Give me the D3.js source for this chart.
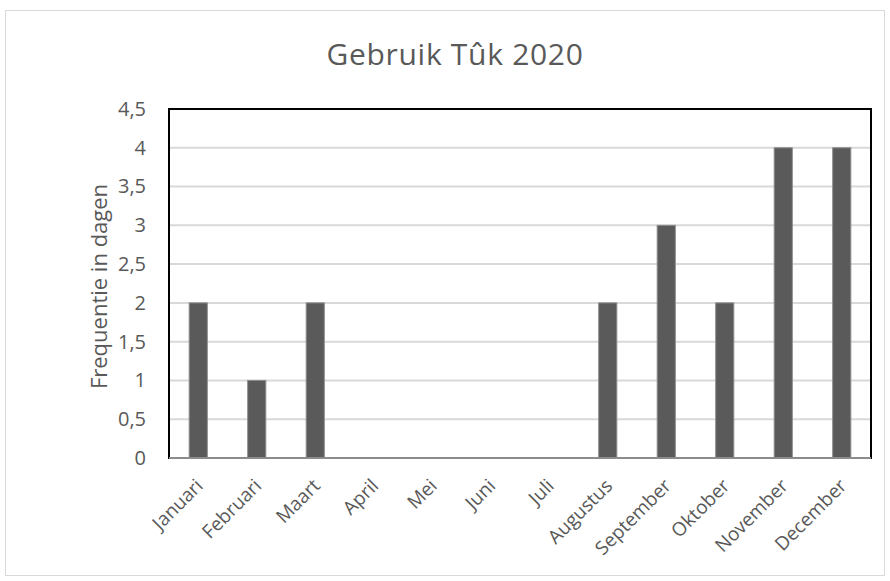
<!DOCTYPE html>
<html>
<head>
<meta charset="utf-8">
<script src="https://cdn.jsdelivr.net/npm/d3@7"></script>
<style>
  body { margin: 0; background: #fff; }
  text { font-family: "Open Sans", sans-serif; fill: #595959; }
</style>
</head>
<body>
<svg id="chart"></svg>
<script>
const months = ['Januari', 'Februari', 'Maart', 'April', 'Mei', 'Juni', 'Juli',
    'Augustus', 'September', 'Oktober', 'November', 'December'];
const days = [2, 1, 2, 0, 0, 0, 0, 2, 3, 2, 4, 4];
const yTicks = [0, 0.5, 1, 1.5, 2, 2.5, 3, 3.5, 4, 4.5];
const chartTitle = 'Gebruik Tûk 2020';
const yTitle = 'Frequentie in dagen';

const width = 890, height = 581;
const plot = { left: 169, top: 109, right: 871, bottom: 458 };

const svg = d3.select('#chart')
    .attr('width', width)
    .attr('height', height);

// outer chart border
svg.append('rect')
    .attr('x', 5.5).attr('y', 10.5)
    .attr('width', 879).attr('height', 565)
    .attr('fill', '#fff')
    .attr('stroke', '#d9d9d9');

const x = d3.scaleBand()
    .domain(months)
    .range([plot.left, plot.right])
    .paddingInner(0.69)
    .paddingOuter(0.345);

const y = d3.scaleLinear()
    .domain([0, 4.5])
    .range([plot.bottom, plot.top]);

// gridlines
svg.append('g')
    .selectAll('line')
    .data(yTicks.filter(d => d > 0 && d < 4.5))
    .join('line')
        .attr('x1', plot.left).attr('x2', plot.right)
        .attr('y1', d => y(d)).attr('y2', d => y(d))
        .attr('stroke', '#d9d9d9').attr('stroke-width', 2);

// bars
svg.append('g')
    .selectAll('rect')
    .data(days)
    .join('rect')
        .attr('x', (d, i) => x(months[i]))
        .attr('y', d => y(d))
        .attr('width', x.bandwidth())
        .attr('height', d => y(0) - y(d))
        .attr('fill', '#5a5a5a')
        .attr('stroke', '#8c8c8c')
        .attr('stroke-width', 1);

// plot frame
svg.append('rect')
    .attr('x', plot.left).attr('y', plot.top)
    .attr('width', plot.right - plot.left)
    .attr('height', plot.bottom - plot.top)
    .attr('fill', 'none')
    .attr('stroke', '#000').attr('stroke-width', 2);

// x axis line (gray)
svg.append('line')
    .attr('x1', plot.left).attr('x2', plot.right)
    .attr('y1', plot.bottom).attr('y2', plot.bottom)
    .attr('stroke', '#8c8c8c').attr('stroke-width', 2);

// y axis
const yAxis = svg.append('g')
    .attr('transform', `translate(${plot.left},0)`)
    .call(d3.axisLeft(y)
        .tickValues(yTicks)
        .tickSize(0)
        .tickPadding(23)
        .tickFormat(d => String(d).replace('.', ',')));
yAxis.select('.domain').remove();
yAxis.selectAll('text')
    .attr('font-size', 20)
    .attr('fill', '#595959')
    .style('font-family', '"Open Sans", sans-serif');

// x axis labels
const xAxis = svg.append('g')
    .attr('transform', `translate(0,${plot.bottom})`)
    .call(d3.axisBottom(x).tickSize(0).tickPadding(0));
xAxis.select('.domain').remove();
xAxis.selectAll('text')
    .attr('font-size', 19)
    .attr('fill', '#595959')
    .style('font-family', '"Open Sans", sans-serif')
    .attr('text-anchor', 'end')
    .attr('dy', 0)
    .attr('y', 0)
    .attr('transform', 'translate(6,29) rotate(-45)');

// titles
svg.append('text')
    .attr('x', 455).attr('y', 65)
    .attr('text-anchor', 'middle')
    .attr('font-size', 30)
    .attr('letter-spacing', 0.7)
    .text(chartTitle);

svg.append('text')
    .attr('transform', `translate(107,${(plot.top + plot.bottom) / 2 + 3}) rotate(-90)`)
    .attr('text-anchor', 'middle')
    .attr('font-size', 22)
    .text(yTitle);
</script>
</body>
</html>
